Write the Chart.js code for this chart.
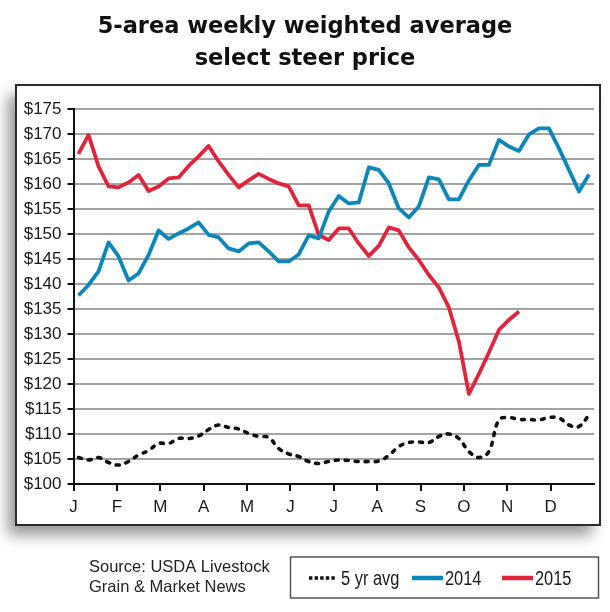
<!DOCTYPE html>
<html>
<head>
<meta charset="utf-8">
<script src="https://cdn.jsdelivr.net/npm/chart.js@4.4.1/dist/chart.umd.min.js"></script>
<style>
  html, body { margin: 0; padding: 0; background: #fff; }
  #wrap { width: 610px; height: 612px; position: relative; }
</style>
</head>
<body>
<div id="wrap"><canvas id="steerChart"></canvas></div>
<script>
// Weekly select steer price, $/cwt, one value per week of the year
const monthLabels = ['J', 'F', 'M', 'A', 'M', 'J', 'J', 'A', 'S', 'O', 'N', 'D'];
const yTickValues = [100, 105, 110, 115, 120, 125, 130, 135, 140, 145, 150, 155, 160, 165, 170, 175];
const seriesNames = ['5 yr avg', '2014', '2015'];

const avg5yr = [
  105.3, 104.8, 105.3, 104.3, 103.8, 104.5, 105.8, 106.7, 108.1, 108.1,
  109.1, 109.1, 109.6, 110.9, 111.8, 111.3, 111.0, 110.1, 109.5, 109.3,
  107.1, 106.0, 105.5, 104.5, 104.1, 104.5, 104.8, 104.7, 104.5, 104.5,
  104.6, 105.7, 107.5, 108.3, 108.4, 108.3, 109.5, 110.0, 109.1, 106.5,
  105.3, 106.5, 112.8, 113.3, 112.9, 112.9, 112.8, 113.3, 113.2, 111.8,
  111.5, 113.8
];
const price2014 = [
  137.7, 139.8, 142.5, 148.3, 145.5, 140.7, 142.1, 145.8, 150.7, 149.0,
  150.1, 151.1, 152.3, 149.8, 149.3, 147.1, 146.5, 148.1, 148.3, 146.5,
  144.5, 144.5, 145.9, 149.7, 149.1, 154.5, 157.6, 156.1, 156.3, 163.3,
  162.8, 160.1, 155.1, 153.3, 155.5, 161.3, 160.9, 156.9, 156.9, 160.7,
  163.8, 163.8, 168.8, 167.5, 166.6, 169.9, 171.1, 171.1, 167.1, 162.8,
  158.5, 161.9
];
const price2015 = [
  166.0, 169.8, 163.5, 159.5, 159.3, 160.3, 161.8, 158.6, 159.5, 161.1,
  161.3, 163.6, 165.5, 167.6, 164.5, 161.8, 159.3, 160.7, 162.0, 161.0,
  160.1, 159.5, 155.7, 155.7, 149.8, 148.8, 151.1, 151.1, 148.1, 145.6,
  147.6, 151.3, 150.7, 147.3, 144.8, 141.8, 139.3, 135.3, 128.5, 118.0,
  122.0, 126.3, 130.8, 132.8, 134.5
];
const sourceLines = ['Source: USDA Livestock', 'Grain & Market News'];

const WEEKS = 52;
// weekly values sit in the middle of their week slot
const toPoints = arr => arr.map((v, i) => ({ x: i + 0.5, y: v }));

const legendSlots = [309, 412, 502];

// white panel with a soft drop shadow behind the plot
const framePanel = {
  id: 'framePanel',
  beforeDraw(chart) {
    const ctx = chart.ctx;
    ctx.save();
    ctx.shadowColor = 'rgba(0,0,0,0.42)';
    ctx.shadowBlur = 14;
    ctx.shadowOffsetX = -8;
    ctx.shadowOffsetY = 10;
    ctx.fillStyle = '#fff';
    ctx.fillRect(16, 85, 584, 440);
    ctx.restore();
    ctx.save();
    ctx.strokeStyle = '#2b2b2b';
    ctx.lineWidth = 2;
    ctx.strokeRect(16, 85, 584, 440);
    ctx.restore();
  }
};

// boxed legend + source note under the panel
const footerLegend = {
  id: 'footerLegend',
  afterDraw(chart) {
    const ctx = chart.ctx;
    ctx.save();
    ctx.strokeStyle = '#555';
    ctx.lineWidth = 1.5;
    ctx.strokeRect(290.5, 557, 308, 41);

    const y = 578;
    ctx.font = '20px "Liberation Sans", Arial, sans-serif';
    ctx.textBaseline = 'middle';
    chart.data.datasets.forEach((ds, i) => {
      const x0 = legendSlots[i];
      const dotted = !!ds.borderDash;
      const w = dotted ? 26 : 31;
      ctx.beginPath();
      ctx.strokeStyle = ds.borderColor;
      ctx.lineWidth = dotted ? 3.5 : 4.5;
      ctx.lineCap = 'butt';
      ctx.setLineDash(dotted ? [3.4, 2.2] : []);
      ctx.moveTo(x0, y);
      ctx.lineTo(x0 + w, y);
      ctx.stroke();
      ctx.setLineDash([]);
      // squeeze the label to mimic the narrow face of the original
      ctx.save();
      ctx.translate(x0 + w + (dotted ? 6 : 2), y + 1);
      ctx.scale(0.82, 1);
      ctx.fillStyle = '#1a1a1a';
      ctx.fillText(ds.label, 0, 0);
      ctx.restore();
    });

    ctx.font = '16.5px "Liberation Sans", Arial, sans-serif';
    ctx.textBaseline = 'alphabetic';
    ctx.fillStyle = '#222';
    sourceLines.forEach((line, i) => ctx.fillText(line, 89, 572 + i * 20));
    ctx.restore();
  }
};

const chart = new Chart(document.getElementById('steerChart'), {
  type: 'line',
  data: {
    datasets: [
      {
        label: seriesNames[0],
        data: toPoints(avg5yr),
        borderColor: '#111',
        borderWidth: 3.6,
        borderDash: [3, 7],
        borderCapStyle: 'round',
        tension: 0.4,
        pointRadius: 0
      },
      {
        label: seriesNames[1],
        data: toPoints(price2014),
        borderColor: '#0a86b8',
        borderWidth: 3.8,
        borderJoinStyle: 'round',
        tension: 0,
        pointRadius: 0
      },
      {
        label: seriesNames[2],
        data: toPoints(price2015),
        borderColor: '#e0243c',
        borderWidth: 3.8,
        borderJoinStyle: 'round',
        tension: 0,
        pointRadius: 0
      }
    ]
  },
  options: {
    responsive: true,
    maintainAspectRatio: false,
    animation: false,
    layout: { padding: { left: 16, right: 16, top: 0, bottom: 0 } },
    plugins: {
      legend: { display: false },
      tooltip: { enabled: false },
      title: {
        display: true,
        text: ['5-area weekly weighted average', 'select steer price'],
        color: '#111',
        font: { family: '"DejaVu Sans", sans-serif', weight: 'bold', size: 22.5, lineHeight: 1.42 },
        padding: { top: 11, bottom: 34 }
      }
    },
    scales: {
      x: {
        type: 'linear',
        min: 0,
        max: WEEKS,
        afterBuildTicks: scale => {
          scale.ticks = monthLabels.map((_, m) => ({ value: m * WEEKS / 12 }));
        },
        afterFit: scale => { scale.height = 128; },
        grid: { drawOnChartArea: false, drawTicks: true, tickLength: 7, tickColor: '#111', lineWidth: 2 },
        border: { color: '#111', width: 2 },
        ticks: {
          autoSkip: false,
          maxRotation: 0,
          padding: 6,
          color: '#1a1a1a',
          font: { family: '"Liberation Sans", Arial, sans-serif', size: 17 },
          callback: (v, i) => monthLabels[i]
        }
      },
      y: {
        min: 100,
        max: 175,
        afterBuildTicks: scale => {
          scale.ticks = yTickValues.map(v => ({ value: v }));
        },
        afterFit: scale => { scale.width = 57.5; },
        grid: { color: '#a3a3a3', lineWidth: 2, tickLength: 6, tickColor: '#111' },
        border: { color: '#111', width: 2 },
        ticks: {
          padding: 6,
          color: '#1a1a1a',
          font: { family: '"Liberation Sans", Arial, sans-serif', size: 17 },
          callback: v => '$' + v
        }
      }
    }
  },
  plugins: [framePanel, footerLegend]
});
</script>
</body>
</html>
